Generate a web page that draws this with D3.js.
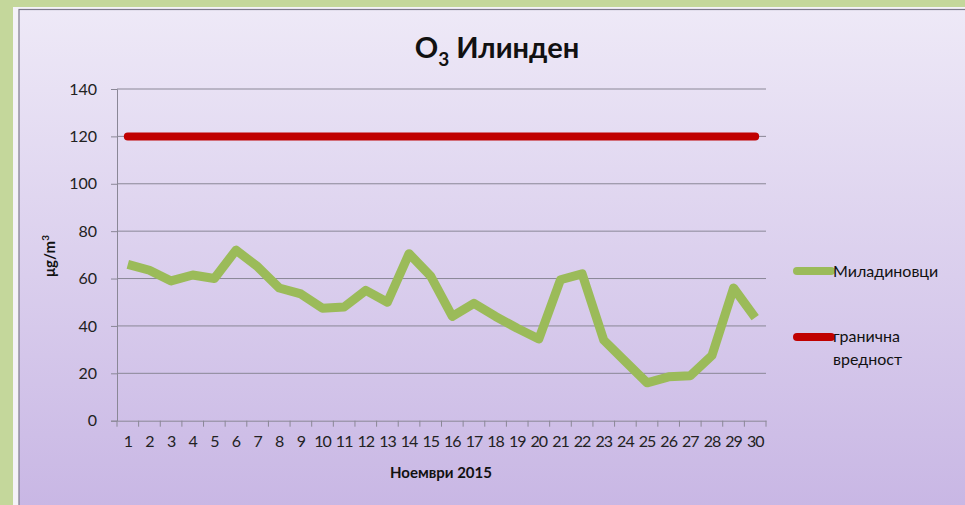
<!DOCTYPE html>
<html><head><meta charset="utf-8">
<script src="https://cdn.jsdelivr.net/npm/d3@7"></script>
<style>html,body{margin:0;padding:0;background:#c4d79b;overflow:hidden}</style>
</head><body>
<script>
const days = d3.range(1, 31).map(String);
const miladinovci = [66, 63.5, 59, 61.5, 60, 72, 65, 56, 53.5, 47.5, 48, 55, 50, 70.5, 61, 44, 49.5, 44, 39, 34.5, 59.5, 62, 34, 25, 16, 18.5, 19, 27.5, 56, 43.5];
const limitValue = 120;
const limit = days.map(() => limitValue);
const yTicks = [0, 20, 40, 60, 80, 100, 120, 140];
const seriesNames = ["Миладиновци", "гранична вредност"];

const W = 965, H = 505;
const font = "'Comic Sans MS','Lato','Noto Sans',sans-serif";
const svg = d3.select("body").append("svg").attr("width", W).attr("height", H);
const defs = svg.append("defs");
const grad = defs.append("linearGradient").attr("id", "bg").attr("x1", 0).attr("y1", 0).attr("x2", 0).attr("y2", 1);
grad.append("stop").attr("offset", "0%").attr("stop-color", "#eee9f7");
grad.append("stop").attr("offset", "100%").attr("stop-color", "#c8b6e4");

svg.append("rect").attr("x", 0).attr("y", 0).attr("width", W).attr("height", H).attr("fill", "#c4d79b");
svg.append("rect").attr("x", 13).attr("y", 7).attr("width", W - 13).attr("height", H - 7).attr("fill", "#f4f2f8");
svg.append("rect").attr("x", 19).attr("y", 9.5).attr("width", W - 19 + 5).attr("height", H).attr("fill", "url(#bg)")
  .attr("stroke", "#7d7a8c").attr("stroke-width", 1.2);

const pL = 117, pR = 766, pT = 89, pB = 420.7;
const x = d3.scaleBand().domain(days).range([pL, pR]);
const y = d3.scaleLinear().domain([0, 140]).range([pB, pT]);

// gridlines
svg.append("g").selectAll("line").data(yTicks.filter(d => d > 0)).join("line")
  .attr("x1", pL).attr("x2", pR).attr("y1", d => y(d)).attr("y2", d => y(d))
  .attr("stroke", "#8a8796").attr("stroke-width", 1);

// y axis
const yAxis = svg.append("g").attr("transform", `translate(${pL},0)`)
  .call(d3.axisLeft(y).tickValues(yTicks).tickSize(6).tickPadding(14));
yAxis.select(".domain").attr("stroke", "#8a8796");
yAxis.selectAll(".tick line").attr("stroke", "#8a8796");
yAxis.selectAll("text").attr("font-family", font).attr("font-size", 16).attr("fill", "#222");

// x axis
const xAxis = svg.append("g").attr("transform", `translate(0,${pB})`)
  .call(d3.axisBottom(x).tickSize(0).tickPadding(15));
xAxis.select(".domain").attr("stroke", "#8a8796");
xAxis.selectAll("text").attr("font-family", font).attr("font-size", 16).attr("fill", "#222")
  .attr("letter-spacing", "-1px");
svg.append("g").selectAll("line").data(d3.range(31)).join("line")
  .attr("x1", i => pL + i * x.step()).attr("x2", i => pL + i * x.step())
  .attr("y1", pB).attr("y2", pB + 6).attr("stroke", "#8a8796");

// lines
const line = d3.line().x((d, i) => x(days[i]) + x.bandwidth() / 2).y(d => y(d));
svg.append("path").datum(limit).attr("d", line).attr("fill", "none")
  .attr("stroke", "#c00000").attr("stroke-width", 8).attr("stroke-linecap", "round");
svg.append("path").datum(miladinovci).attr("d", line).attr("fill", "none")
  .attr("stroke", "#9bbb59").attr("stroke-width", 9).attr("stroke-linejoin", "round");

// title
const t = svg.append("text").attr("x", 497).attr("y", 58).attr("text-anchor", "middle")
  .attr("font-family", font).attr("font-size", 29).attr("font-weight", "bold").attr("fill", "#111");
t.append("tspan").text("O");
t.append("tspan").attr("font-size", 19).attr("dy", 8).text("3");
t.append("tspan").attr("dy", -8).text(" Илинден");

// axis titles
svg.append("text").attr("transform", "translate(55,256) rotate(-90)").attr("text-anchor", "middle")
  .attr("font-family", font).attr("font-size", 15).attr("font-weight", "bold").attr("fill", "#111")
  .html('μg/m<tspan font-size="10" dy="-6">3</tspan>');
svg.append("text").attr("x", 441).attr("y", 478).attr("text-anchor", "middle")
  .attr("font-family", font).attr("font-size", 15).attr("font-weight", "bold").attr("fill", "#111")
  .text("Ноември 2015");

// legend
const lg = svg.append("g");
lg.append("line").attr("x1", 797).attr("x2", 831).attr("y1", 271).attr("y2", 271)
  .attr("stroke", "#9bbb59").attr("stroke-width", 8).attr("stroke-linecap", "round");
lg.append("text").attr("x", 833).attr("y", 277).attr("font-family", font).attr("font-size", 16).attr("fill", "#111").text(seriesNames[0]);
lg.append("line").attr("x1", 797).attr("x2", 831).attr("y1", 337).attr("y2", 337)
  .attr("stroke", "#c00000").attr("stroke-width", 8).attr("stroke-linecap", "round");
const lt = lg.append("text").attr("font-family", font).attr("font-size", 16).attr("fill", "#111");
lt.append("tspan").attr("x", 833).attr("y", 342).text(seriesNames[1].split(" ")[0]);
lt.append("tspan").attr("x", 833).attr("y", 365).text(seriesNames[1].split(" ")[1]);
</script>
</body></html>
